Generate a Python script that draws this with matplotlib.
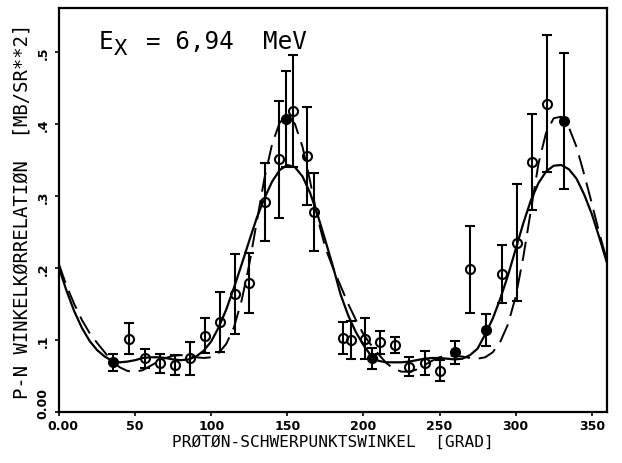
import matplotlib
matplotlib.use('Agg')
from matplotlib import pyplot as plt
from matplotlib.transforms import ScaledTranslation
import numpy as np

# measured angular correlation (centre-of-mass angle in degrees)
angle = [35.7, 46.0, 56.3, 66.4, 76.2, 86.3, 96.1, 106.0, 115.8, 125.0,
         135.0, 144.3, 149.1, 154.0, 163.0, 167.7, 186.4, 191.6, 201.0, 205.8,
         211.0, 220.8, 230.2, 240.5, 250.3, 260.2, 270.0, 280.5, 290.9, 300.7,
         310.5, 320.8, 332.0]
corr = [0.069, 0.102, 0.0745, 0.0676, 0.065, 0.0745, 0.106, 0.125, 0.164, 0.179,
        0.292, 0.351, 0.407, 0.418, 0.355, 0.278, 0.103, 0.100, 0.102, 0.0745,
        0.097, 0.0935, 0.063, 0.068, 0.0574, 0.083, 0.198, 0.114, 0.192, 0.235,
        0.347, 0.428, 0.404]
corr_err = [0.012, 0.022, 0.013, 0.013, 0.014, 0.023, 0.024, 0.042, 0.055, 0.042,
            0.054, 0.081, 0.067, 0.078, 0.068, 0.054, 0.022, 0.027, 0.028, 0.015,
            0.016, 0.011, 0.013, 0.017, 0.015, 0.016, 0.060, 0.022, 0.040, 0.081,
            0.067, 0.095, 0.095]
filled = [1, 0, 0, 0, 0, 0, 0, 0, 0, 0,
          0, 0, 1, 0, 0, 0, 0, 0, 0, 1,
          0, 0, 0, 0, 0, 1, 0, 1, 0, 0,
          0, 0, 1]

# fitted curves, sampled every 5 degrees
fit_angle = list(range(0, 365, 5))
fit_solid = [0.200, 0.168, 0.140, 0.117, 0.099, 0.086, 0.077, 0.071, 0.069, 0.070,
             0.072, 0.075, 0.076, 0.076, 0.075, 0.073, 0.072, 0.073, 0.077, 0.085,
             0.098, 0.118, 0.143, 0.173, 0.205, 0.238, 0.270, 0.297, 0.320, 0.336,
             0.343, 0.340, 0.327, 0.304, 0.273, 0.238, 0.202, 0.163, 0.134, 0.111,
             0.093, 0.078, 0.071, 0.069, 0.069, 0.069, 0.070, 0.072, 0.074, 0.075,
             0.075, 0.074, 0.073, 0.074, 0.079, 0.088, 0.108, 0.130, 0.158, 0.190,
             0.226, 0.262, 0.294, 0.318, 0.334, 0.342, 0.343, 0.337, 0.324, 0.302,
             0.275, 0.242, 0.207]
fit_dashed = [0.205, 0.175, 0.150, 0.128, 0.110, 0.096, 0.083, 0.070, 0.062, 0.057,
              0.056, 0.058, 0.064, 0.070, 0.075, 0.078, 0.079, 0.078, 0.076, 0.075,
              0.076, 0.082, 0.095, 0.118, 0.155, 0.205, 0.265, 0.325, 0.372, 0.402,
              0.412, 0.400, 0.368, 0.320, 0.268, 0.228, 0.200, 0.175, 0.150, 0.128,
              0.108, 0.093, 0.080, 0.068, 0.060, 0.056, 0.056, 0.059, 0.065, 0.071,
              0.076, 0.078, 0.078, 0.077, 0.075, 0.074, 0.076, 0.083, 0.098, 0.122,
              0.160, 0.215, 0.280, 0.345, 0.388, 0.408, 0.410, 0.395, 0.368, 0.330,
              0.290, 0.248, 0.210]

xticks = [0, 50, 100, 150, 200, 250, 300, 350]
xticklabels = ['0.00', '50', '100', '150', '200', '250', '300', '350']
yticks = [0.0, 0.1, 0.2, 0.3, 0.4, 0.5]
yticklabels = ['0.00', '.1', '.2', '.3', '.4', '.5']

mono = 'DejaVu Sans Mono'

fig = plt.figure(figsize=(6.22, 4.64), dpi=100)
ax = fig.add_axes([59 / 622, 51 / 464, 548 / 622, 404 / 464])

ax.plot(fit_angle, fit_solid, color='k', lw=1.6)
ax.plot(fit_angle, fit_dashed, color='k', lw=1.4, linestyle=(0, (10, 4.5)))

angle = np.array(angle)
corr = np.array(corr)
corr_err = np.array(corr_err)
filled = np.array(filled, dtype=bool)
for mask, face in [(~filled, 'none'), (filled, 'k')]:
    ax.errorbar(angle[mask], corr[mask], yerr=corr_err[mask], fmt='o',
                color='k', mfc=face, mec='k', ms=6.5, mew=1.5,
                elinewidth=1.5, capsize=3.5, capthick=1.5)

ax.set_xlim(0, 360)
ax.set_ylim(0, 0.561)
ax.set_xticks(xticks)
ax.set_xticklabels(xticklabels, fontsize=9, fontweight='bold')
ax.set_yticks(yticks)
ax.set_yticklabels(yticklabels, fontsize=9, fontweight='bold', rotation=90,
                   va='center')
ax.tick_params(direction='out', length=3, width=1.2, pad=2)
ax.tick_params(axis='y', pad=4)
for s in ax.spines.values():
    s.set_linewidth(1.6)

# nudge the two zero labels apart at the corner
xl0 = ax.get_xticklabels()[0]
xl0.set_transform(xl0.get_transform() + ScaledTranslation(4 / 100, 0, fig.dpi_scale_trans))
yl0 = ax.get_yticklabels()[0]
yl0.set_transform(yl0.get_transform() + ScaledTranslation(0, 9 / 100, fig.dpi_scale_trans))

ax.set_xlabel('PRØTØN-SCHWERPUNKTSWINKEL  [GRAD]', family=mono, fontsize=11.6)
ax.xaxis.set_label_coords(0.5, -0.054)
ax.set_ylabel('P-N WINKELKØRRELATIØN  [MB/SR**2]', family=mono, fontsize=13.6)
ax.yaxis.set_label_coords(-27 / 548, 0.5)

ax.text(0.073, 0.9, 'E', transform=ax.transAxes, fontsize=17.5,
        family=mono, va='baseline', ha='left')
ax.text(0.1, 0.887, 'X', transform=ax.transAxes, fontsize=16,
        family=mono, va='baseline', ha='left')
ax.text(0.158, 0.9, '= 6,94  MeV', transform=ax.transAxes, fontsize=17.5,
        family=mono, va='baseline', ha='left')

fig.savefig('out.png', dpi=100)
